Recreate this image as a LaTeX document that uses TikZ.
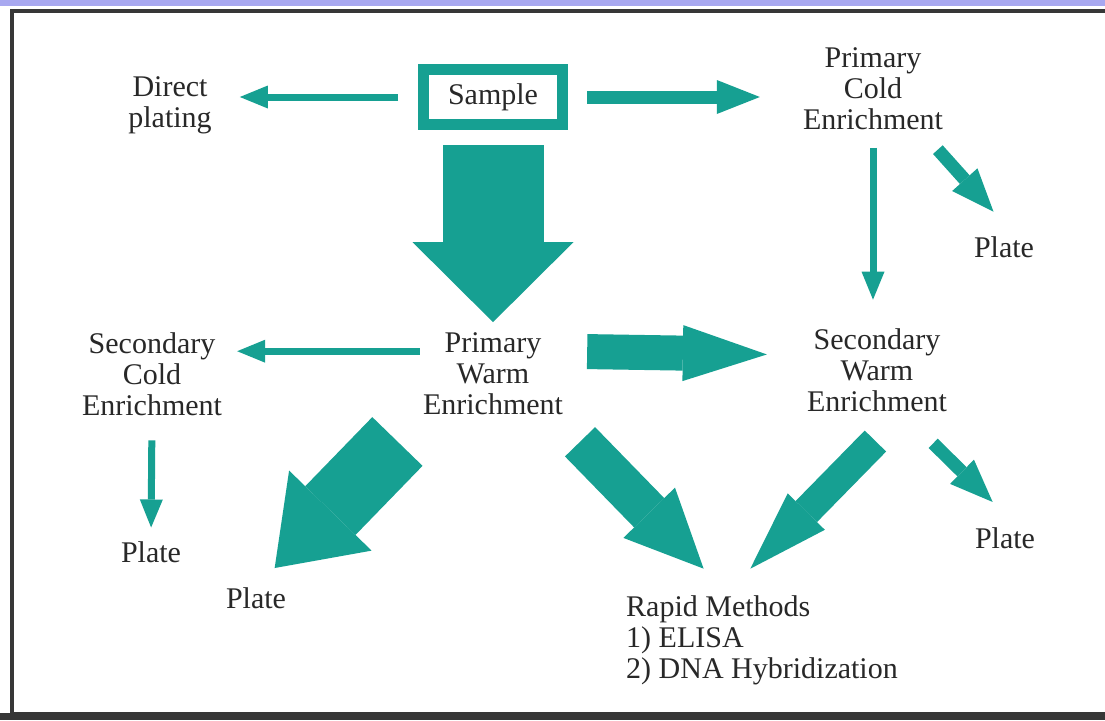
\documentclass[tikz,border=0pt]{standalone}
\usepackage{fontspec}
\setmainfont{Liberation Serif}
\usepackage{tikz}
\usetikzlibrary{arrows.meta,calc}
\definecolor{arrowteal}{RGB}{22,160,146}
\definecolor{txtgray}{RGB}{40,40,40}
\definecolor{bandblue}{RGB}{168,168,240}
\definecolor{framegray}{RGB}{55,55,55}
\tikzset{
    txt/.style = {align=center, inner sep=0pt, text=txtgray, font=\fontsize{30}{31}\selectfont},
    samplebox/.style = {txt, draw=arrowteal, line width=11pt, minimum width=139pt, minimum height=55pt},
    blockarr/.style n args = {3}{color=arrowteal, line width=#1, -{Triangle[width=#2, length=#3, line width=0pt]}},
    slimarr/.style = {blockarr={7pt}{23pt}{28pt}},
    midarr/.style = {blockarr={13pt}{34pt}{43pt}}
}
\begin{document}
\begin{tikzpicture}[x=1pt, y=-1pt]
  \useasboundingbox (0,0) rectangle (1105,720);
  \clip (0,0) rectangle (1105,720);
  \fill[white] (0,0) rectangle (1105,720);
  \fill[bandblue] (0,0) rectangle (1105,6);
  \fill[framegray] (0,713) rectangle (1105,720);
  \draw[framegray, line width=4pt] (12,11) rectangle (1120,714);

  \node[txt] (direct) at (170,105) {Direct\\plating};

  \node[samplebox] (sample) at (493,97) {Sample};

  \node[txt] (pcold) at (873,89) {Primary\\Cold\\Enrichment};

  \node[txt] (plate1) at (1004,247) {Plate};

  \node[txt] (pwarm) at (493,374) {Primary\\Warm\\Enrichment};

  \node[txt] (scold) at (152,374) {Secondary\\Cold\\Enrichment};

  \node[txt] (swarm) at (877,370) {Secondary\\Warm\\Enrichment};

  \node[txt] (plate2) at (151,552) {Plate};

  \node[txt] (plate3) at (256,598) {Plate};

  \node[txt] (plate4) at (1005,538) {Plate};

  \node[txt, align=left] (rapid) at (762,640) {Rapid Methods\\1) ELISA\\2) DNA Hybridization};

  \path (sample.west) edge[slimarr, shorten <=20pt, shorten >=28pt] (sample.west -| direct.east);

  \path (sample.east) edge[midarr, shorten <=19pt, shorten >=43pt] (sample.east -| pcold.west);

  \path (sample.south) edge[blockarr={101pt}{161pt}{80pt}, shorten <=15pt, shorten >=10.6pt] (pwarm.north);

  \path (pcold.south) edge[slimarr, shorten <=17.6pt, shorten >=28.6pt] (pcold.south |- swarm.north);

  \path (pcold.-41) edge[midarr, shorten <=26pt, shorten >=33pt] (plate1.43);

  \path (pwarm.162) edge[slimarr, shorten <=3pt, shorten >=15pt] (scold.18);

  \path (pwarm.18) edge[blockarr={35pt}{56pt}{84pt}, shorten <=24pt, shorten >=40pt] (swarm.168);

  \path (scold.south) edge[slimarr, shorten <=24.6pt, shorten >=13.75pt] (plate2.north);

  \path (pwarm.south west) edge[blockarr={70pt}{115pt}{80pt}, shorten <=36.5pt, shorten >=26.8pt] (plate3.north);

  \path (pwarm.-34) edge[blockarr={42pt}{72pt}{78pt}, shorten <=37pt, shorten >=37pt] (rapid.126);

  \path (swarm.-57) edge[blockarr={30pt}{52pt}{80pt}, shorten <=41pt, shorten >=37pt] (rapid.130);

  \path (swarm.-60) edge[midarr, shorten <=45pt, shorten >=36pt] (plate4.39);
\end{tikzpicture}
\end{document}
